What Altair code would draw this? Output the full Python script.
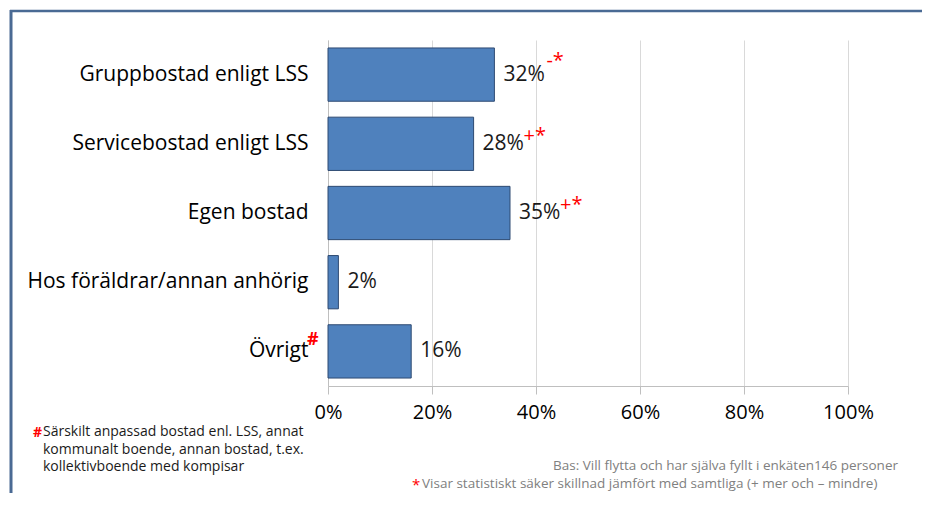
import altair as alt
import pandas as pd

categories = ["Gruppbostad enligt LSS", "Servicebostad enligt LSS", "Egen bostad",
              "Hos föräldrar/annan anhörig", "Övrigt"]
values = [32, 28, 35, 2, 16]
value_labels = ["32%", "28%", "35%", "2%", "16%"]
markers = ["-*", "+*", "+*", "", ""]
x_ticks = [0, 20, 40, 60, 80, 100]

footnote_left = ["Särskilt anpassad bostad enl. LSS, annat",
                 "kommunalt boende, annan bostad, t.ex.",
                 "kollektivboende med kompisar"]
base_note = "Bas: Vill flytta och har själva fyllt i enkäten146 personer"
star_note = "Visar statistiskt säker skillnad  jämfört med samtliga (+ mer och – mindre)"

df = pd.DataFrame({"cat": categories, "val": values, "lab": value_labels, "mark": markers})
one = pd.DataFrame({"a": [0]})

FONT = "Open Sans"
RED = "#FF0000"
FRAME = "#4A6A94"
W, H = 520, 346

y = alt.Y("cat:N", sort=categories, title=None,
          scale=alt.Scale(paddingInner=0.23, paddingOuter=0.115),
          axis=alt.Axis(ticks=False, labelPadding=20, labelFontSize=21, labelFont=FONT,
                        labelColor="#000000", domainColor="#BFBFBF", labelLimit=320))
x = alt.X("val:Q", title=None, scale=alt.Scale(domain=[0, 100], nice=False),
          axis=alt.Axis(values=x_ticks, labelExpr="datum.value + '%'", grid=True,
                        gridColor="#D9D9D9", domainColor="#BFBFBF", tickColor="#BFBFBF",
                        tickSize=8, labelPadding=8, labelFontSize=20, labelFont=FONT,
                        labelColor="#000000", labelFlush=False))

base = alt.Chart(df)
bars = base.mark_bar(color="#4F81BD", stroke="#2E4A72", strokeWidth=1).encode(x=x, y=y)
labels = base.mark_text(align="left", baseline="middle", dx=9, fontSize=21, font=FONT,
                        color="#1A1A1A").encode(x="val:Q", y=alt.Y("cat:N", sort=categories), text="lab:N")
plus_marks = base.transform_filter("datum.mark == '+*'").mark_text(
    align="left", baseline="alphabetic", dx=50, dy=-2, fontSize=20, font=FONT, color=RED
).encode(x="val:Q", y=alt.Y("cat:N", sort=categories), text="mark:N")
minus_marks = base.transform_filter("datum.mark == '-*'").mark_text(
    align="left", baseline="alphabetic", dx=52, dy=-8, fontSize=20, font=FONT, color=RED
).encode(x="val:Q", y=alt.Y("cat:N", sort=categories), text="mark:N")
hash_mark = base.transform_filter("datum.cat == 'Övrigt'").mark_text(
    text="#", align="left", baseline="alphabetic", dx=-21, dy=-6, fontSize=18, font=FONT,
    fontWeight="bold", color=RED
).encode(x=alt.datum(0), y=alt.Y("cat:N", sort=categories))

note_hash = alt.Chart(one).mark_text(text="#", align="left", baseline="middle", fontSize=14,
                                     font=FONT, fontWeight="bold", color=RED).encode(
    x=alt.value(-295), y=alt.value(393))
note_left = alt.Chart(one).mark_text(text=footnote_left, align="left", baseline="top", fontSize=14,
                                     font=FONT, lineHeight=17.5, color="#1A1A1A").encode(
    x=alt.value(-285), y=alt.value(385))
note_base = alt.Chart(one).mark_text(text=base_note, align="right", baseline="middle", fontSize=13.5,
                                     font=FONT, color="#808080").encode(
    x=alt.value(570), y=alt.value(426))
note_star = alt.Chart(one).mark_text(text="*", align="left", baseline="middle", fontSize=15,
                                     font=FONT, color=RED).encode(
    x=alt.value(84), y=alt.value(445))
note_star_text = alt.Chart(one).mark_text(text=star_note, align="left", baseline="middle", fontSize=13.5,
                                          font=FONT, color="#808080").encode(
    x=alt.value(94), y=alt.value(444))

frame_left = alt.Chart(one).mark_rule(color=FRAME, strokeWidth=3).encode(
    x=alt.value(-317), y=alt.value(-30), y2=alt.value(455))
frame_top = alt.Chart(one).mark_rule(color=FRAME, strokeWidth=2.5).encode(
    x=alt.value(-318), x2=alt.value(600), y=alt.value(-29))

chart = alt.layer(
    bars, labels, plus_marks, minus_marks, hash_mark,
    note_hash, note_left, note_base, note_star, note_star_text,
    frame_left, frame_top
).properties(
    width=W, height=H,
    padding={"left": 320, "top": 32, "right": 74, "bottom": 107},
    autosize=alt.AutoSizeParams(type="none"),
    background="white"
).configure_view(stroke=None)

chart.save("out.html", embed_options={"renderer": "svg", "actions": False})
